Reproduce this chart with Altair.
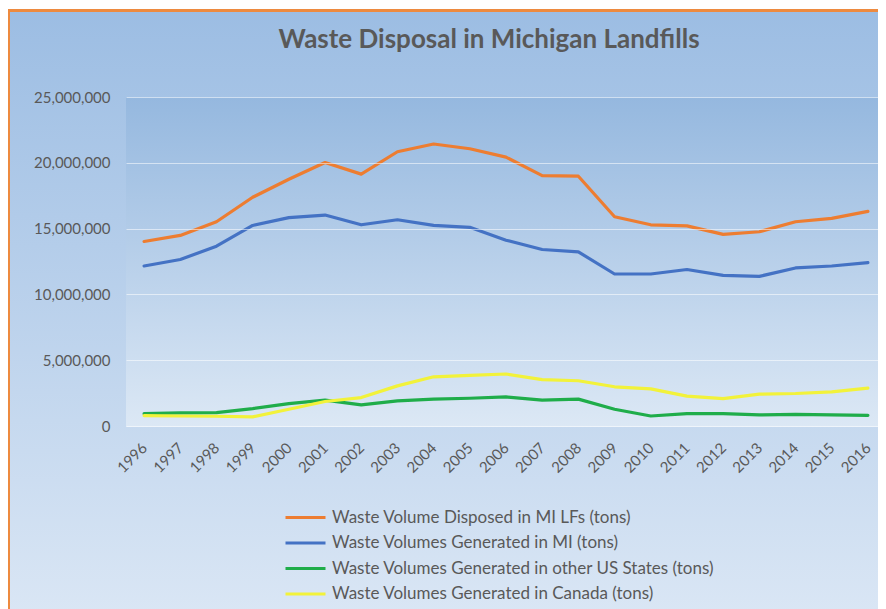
import altair as alt
import pandas as pd

years = list(range(1996, 2017))
series_names = [
    "Waste Volume Disposed in MI LFs (tons)",
    "Waste Volumes Generated in MI (tons)",
    "Waste Volumes Generated in other US States (tons)",
    "Waste Volumes Generated in Canada (tons)",
]
disposed_mi = [14020000, 14480000, 15520000, 17380000, 18750000, 20020000, 19140000,
               20840000, 21430000, 21070000, 20430000, 19030000, 18980000, 15900000,
               15290000, 15210000, 14560000, 14760000, 15520000, 15780000, 16310000]
generated_mi = [12160000, 12650000, 13660000, 15240000, 15830000, 16030000, 15290000,
                15670000, 15240000, 15100000, 14120000, 13410000, 13230000, 11550000,
                11550000, 11890000, 11450000, 11370000, 12010000, 12160000, 12420000]
other_states = [940000, 990000, 1020000, 1320000, 1700000, 1960000, 1600000,
                1910000, 2040000, 2110000, 2210000, 1960000, 2040000, 1270000,
                760000, 940000, 940000, 840000, 890000, 840000, 810000]
canada = [790000, 760000, 740000, 690000, 1270000, 1860000, 2160000,
          3050000, 3740000, 3840000, 3950000, 3530000, 3440000, 2980000,
          2820000, 2270000, 2080000, 2420000, 2470000, 2600000, 2880000]
colors = ["#ED7D31", "#4472C4", "#1FAD4A", "#F2F23A"]
y_ticks = [0, 5000000, 10000000, 15000000, 20000000, 25000000]

rows = []
for name, vals in zip(series_names, [disposed_mi, generated_mi, other_states, canada]):
    for yr, v in zip(years, vals):
        rows.append({"Year": str(yr), "Series": name, "Tons": v})
df = pd.DataFrame(rows)

W, H = 760, 329
FONT = "Lato"
TXT = "#595959"

one = pd.DataFrame({"a": [0]})

outer_bg = alt.Chart(one).mark_rect(
    fill=alt.Gradient(gradient="linear",
                      stops=[alt.GradientStop(color="#9CBDE3", offset=0),
                             alt.GradientStop(color="#DEE9F6", offset=1)],
                      x1=0, x2=0, y1=0, y2=1),
    stroke="#ED8A3F", strokeWidth=3,
).encode(x=alt.value(-117.5), x2=alt.value(W + 60), y=alt.value(-86.5), y2=alt.value(H + 230))

plot_bg = alt.Chart(one).mark_rect(
    fill=alt.Gradient(gradient="linear",
                      stops=[alt.GradientStop(color="#95B8DF", offset=0),
                             alt.GradientStop(color="#DCE8F5", offset=1)],
                      x1=0, x2=0, y1=0, y2=1),
).encode(x=alt.value(0), x2=alt.value(W), y=alt.value(0), y2=alt.value(H + 1))

lines = alt.Chart(df).mark_line(strokeWidth=3.2, strokeJoin="round", strokeCap="round").encode(
    x=alt.X("Year:O", title=None, scale=alt.Scale(type="point", padding=0.5),
            axis=alt.Axis(labelAngle=-45, labelAlign="right", labelBaseline="middle",
                          labelFontSize=15, labelColor=TXT, labelFont=FONT, zindex=1,
                          ticks=False, domain=False, labelPadding=19, grid=False)),
    y=alt.Y("Tons:Q", title=None, scale=alt.Scale(domain=[0, 25000000], nice=False),
            axis=alt.Axis(values=y_ticks, format=",.0f", labelFontSize=15, labelColor=TXT,
                          labelFont=FONT, ticks=False, domain=False, labelPadding=16,
                          zindex=1, gridColor="#FFFFFF", gridOpacity=0.55, gridWidth=1)),
    color=alt.Color("Series:N", sort=series_names,
                    scale=alt.Scale(domain=series_names, range=colors),
                    legend=alt.Legend(title=None, orient="none", legendX=171, legendY=412,
                                      direction="vertical", symbolType="M-4,0H4",
                                      symbolSize=100, symbolStrokeWidth=3,
                                      labelFontSize=17, labelColor=TXT, labelFont=FONT,
                                      labelLimit=600, labelOffset=18, rowPadding=7.5,
                                      zindex=1)),
    order=alt.Order("Year:O"),
)

chart = alt.layer(outer_bg, plot_bg, lines).properties(
    width=W, height=H,
    autosize=alt.AutoSizeParams(type="none"),
    padding={"left": 118, "top": 89, "right": -8, "bottom": 183},
    background="#FFFFFF",
    title=alt.TitleParams("Waste Disposal in Michigan Landfills", font=FONT, fontSize=26,
                          fontWeight=700, color=TXT, anchor="middle", frame="group",
                          dx=-17, dy=44, offset=0, zindex=1),
).configure_view(stroke=None)

chart.save("out.html", embed_options={"renderer": "svg", "actions": False})
